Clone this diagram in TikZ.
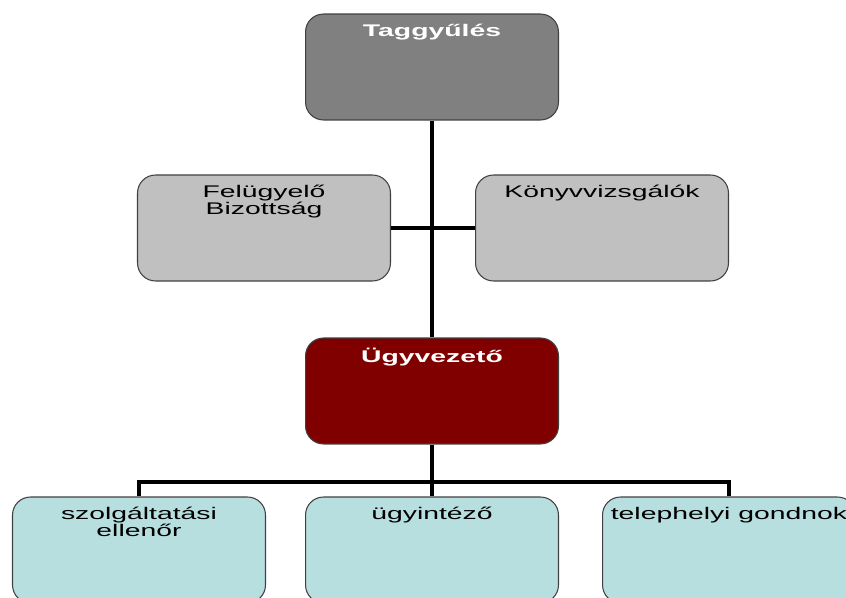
\documentclass[tikz,border=0pt]{standalone}
\usepackage{fontspec}
\newfontfamily\boxfont{Liberation Sans}[FakeStretch=1.68]

\definecolor{tggray}{HTML}{808080}
\definecolor{fbgray}{HTML}{C0C0C0}
\definecolor{uvred}{HTML}{800000}
\definecolor{lowcyan}{HTML}{B8DFE0}

\begin{document}
\begin{tikzpicture}[x=0.02cm, y=-0.02cm,
    orgbox/.style={draw=black!75, line width=0.6pt, rounded corners=0.36cm,
      minimum width=5.06cm, minimum height=2.12cm, inner sep=0pt},
    boxtext/.style={anchor=north, align=center, inner sep=0pt, yshift=-0.2cm,
      font=\boxfont\fontsize{9.6}{10}\selectfont},
    headtext/.style={boxtext, text=white,
      font=\boxfont\bfseries\fontsize{9.6}{10}\selectfont},
    conn/.style={line width=2.8pt, black}]

    \useasboundingbox (0,0) rectangle (846,598);

    % felso szint
    \node[orgbox, fill=tggray, label={[headtext]north:Taggyűlés}] (tg) at (432,67) {};

    % ellenorzo szervek
    \node[orgbox, fill=fbgray, label={[boxtext]north:{Felügyelő\\Bizottság}}] (fb) at (264,228) {};
    \node[orgbox, fill=fbgray, label={[boxtext]north:Könyvvizsgálók}] (kv) at (602,228) {};

    % vezetes
    \node[orgbox, fill=uvred, label={[headtext]north:Ügyvezető}] (uv) at (432,391) {};

    % also szint
    \node[orgbox, fill=lowcyan, label={[boxtext]north:{szolgáltatási\\ellenőr}}] (so) at (139,550) {};
    \node[orgbox, fill=lowcyan, label={[boxtext]north:ügyintéző}] (ui) at (432,550) {};
    \node[orgbox, fill=lowcyan, label={[boxtext]north:telephelyi gondnok}] (tp) at (729,550) {};

    % osszekotok
    \draw[conn] (tg.south) -- (uv.north);
    \draw[conn] (fb.east) -- (kv.west);
    \coordinate (bus) at (432,482);
    \draw[conn] (uv.south) -- (ui.north);
    \draw[conn] (so.north) |- (bus) -| (tp.north);
\end{tikzpicture}
\end{document}
